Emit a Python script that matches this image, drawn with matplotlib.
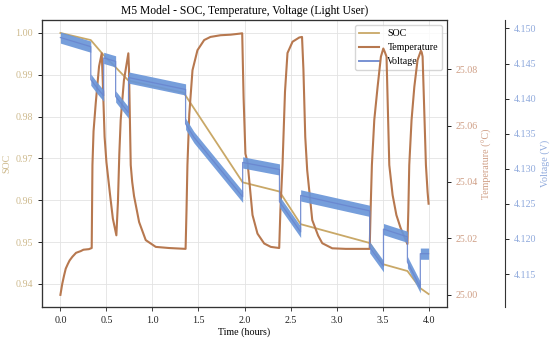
import matplotlib
matplotlib.use("Agg")
import matplotlib.pyplot as plt
from matplotlib.ticker import MultipleLocator, FormatStrFormatter
import numpy as np

plt.rcParams['font.family'] = ['Liberation Serif', 'DejaVu Serif']

# ---------------- data ----------------
soc_t = [0.0, 0.33, 0.47, 0.60, 0.74, 1.34, 1.98, 2.38, 2.61, 3.36, 3.51, 3.77, 3.91, 4.0]
soc_v = [1.0000, 0.9983, 0.9947, 0.9918, 0.9886, 0.9857, 0.9643, 0.9621, 0.9543,
         0.9498, 0.9447, 0.9431, 0.9390, 0.9376]

temp_t = [0.0, 0.02, 0.04, 0.058, 0.08, 0.10, 0.13, 0.17, 0.22, 0.25, 0.31, 0.34,
          0.348, 0.36, 0.384, 0.42, 0.449,
          0.46, 0.48, 0.50, 0.54, 0.57, 0.608,
          0.625, 0.64, 0.655, 0.69, 0.738,
          0.745, 0.755, 0.764, 0.78, 0.80, 0.83, 0.855, 0.927, 1.036, 1.18, 1.36,
          1.37, 1.38, 1.40, 1.435, 1.489, 1.562, 1.63, 1.74, 1.85, 1.957, 1.975,
          1.99, 2.01, 2.033, 2.087, 2.141, 2.214, 2.286, 2.377,
          2.39, 2.413, 2.44, 2.467, 2.522, 2.595, 2.625,
          2.64, 2.66, 2.681, 2.736, 2.80, 2.845, 2.953, 3.10, 3.36,
          3.37, 3.384, 3.41, 3.446, 3.482, 3.508,
          3.525, 3.543, 3.573, 3.609, 3.65, 3.696, 3.77,
          3.78, 3.79, 3.815, 3.845, 3.88, 3.916,
          3.925, 3.935, 3.971, 3.989, 4.0]
temp_v = [25.0000, 25.0039, 25.0069, 25.0093, 25.0109, 25.0122, 25.0135, 25.0149, 25.0155, 25.0160, 25.0162, 25.0166,
          25.0460, 25.0580, 25.0680, 25.0810, 25.0856,
          25.0760, 25.0560, 25.0470, 25.0353, 25.0270, 25.0211,
          25.0330, 25.0500, 25.0620, 25.0760, 25.0856,
          25.0800, 25.0620, 25.0460, 25.0400, 25.0350, 25.0300, 25.0258, 25.0194, 25.0170, 25.0166, 25.0163,
          25.0300, 25.0460, 25.0640, 25.0796, 25.0867, 25.0903, 25.0914, 25.0920, 25.0922, 25.0926, 25.0927,
          25.0700, 25.0500, 25.0470, 25.0283, 25.0217, 25.0182, 25.0170, 25.0166,
          25.0300, 25.0460, 25.0720, 25.0857, 25.0897, 25.0912, 25.0914,
          25.0800, 25.0560, 25.0442, 25.0265, 25.0210, 25.0183, 25.0165, 25.0163, 25.0163,
          25.0300, 25.0460, 25.0620, 25.0737, 25.0844, 25.0873,
          25.0860, 25.0844, 25.0460, 25.0354, 25.0283, 25.0237, 25.0180,
          25.0300, 25.0460, 25.0620, 25.0737, 25.0832, 25.0865,
          25.0860, 25.0844, 25.0460, 25.0365, 25.0323]

volt_t = [0.0, 0.33, 0.33, 0.40, 0.47, 0.47, 0.60, 0.60, 0.74, 0.74, 1.36, 1.36, 1.45,
          1.98, 1.98, 2.38, 2.38, 2.61, 2.61, 3.36, 3.36, 3.51, 3.51, 3.77, 3.77,
          3.91, 3.91, 4.0]
volt_v = [4.1487, 4.1474, 4.1427, 4.1415, 4.1404, 4.1458, 4.1453, 4.1403, 4.1380,
          4.1430, 4.1413, 4.1364, 4.1345, 4.1260, 4.1309, 4.1299, 4.1253, 4.1210,
          4.1262, 4.1240, 4.1188, 4.1161, 4.1214, 4.1203, 4.1167, 4.1131, 4.1179, 4.1179]

x_ticks = [0.0, 0.5, 1.0, 1.5, 2.0, 2.5, 3.0, 3.5, 4.0]

# ---------------- style ----------------
SOC_C = '#c9a867'
TEMP_C = '#b7784f'
VOLT_C = '#6a96d8'
SOC_LC = '#cdb98c'
TEMP_LC = '#cf9f86'
VOLT_LC = '#8fa9dc'
FS = 7.2

fig = plt.figure(figsize=(5.5, 3.41), dpi=100)
ax1 = fig.add_axes([42/550, 34/341, 405/550, 287/341])
ax2 = ax1.twinx()
ax3 = ax1.twinx()
ax3.spines['right'].set_position(('axes', 1.143))

ax1.grid(True, color='#e3e3e3', lw=0.6)
ax1.set_axisbelow(True)

l1, = ax1.plot(soc_t, soc_v, color=SOC_C, lw=1.3, label='SOC')
l2, = ax2.plot(temp_t, temp_v, color=TEMP_C, lw=1.5, label='Temperature')
vt = np.array(volt_t)
vv = np.array(volt_v)
ax3.fill_between(vt, vv - 0.0008, vv + 0.0008, color=VOLT_C, alpha=0.92, lw=0)
l3, = ax3.plot(vt, vv, color='#6a86cf', lw=0.9, alpha=0.9, label='Voltage')

ax1.set_xlim(-0.2, 4.2)
ax1.set_ylim(0.9345, 1.0031)
ax2.set_ylim(24.9957, 25.0974)
ax3.set_ylim(4.1103, 4.1512)

ax1.xaxis.set_major_locator(plt.FixedLocator(x_ticks))
ax1.xaxis.set_major_formatter(FormatStrFormatter('%.1f'))
ax1.yaxis.set_major_locator(MultipleLocator(0.01))
ax1.yaxis.set_major_formatter(FormatStrFormatter('%.2f'))
ax2.yaxis.set_major_locator(MultipleLocator(0.02))
ax2.yaxis.set_major_formatter(FormatStrFormatter('%.2f'))
ax3.yaxis.set_major_locator(MultipleLocator(0.005))
ax3.yaxis.set_major_formatter(FormatStrFormatter('%.3f'))

ax1.tick_params(axis='x', labelsize=FS, length=3, width=0.6, colors='#222222')
ax1.tick_params(axis='y', labelsize=FS, length=3, width=0.6, labelcolor=SOC_LC)
ax2.tick_params(axis='y', labelsize=FS, length=3, width=0.6, labelcolor=TEMP_LC)
ax3.tick_params(axis='y', labelsize=FS, length=3, width=0.6, labelcolor=VOLT_LC)

for a in (ax1, ax2, ax3):
    for s in a.spines.values():
        s.set_color('#333333')
        s.set_linewidth(0.8)

ax1.set_xlabel('Time (hours)', fontsize=FS, labelpad=2)
ax1.set_ylabel('SOC', fontsize=FS, color=SOC_LC, labelpad=3)
ax2.set_ylabel('Temperature (°C)', fontsize=FS, color=TEMP_LC, labelpad=3)
ax3.set_ylabel('Voltage (V)', fontsize=FS, color=VOLT_LC, labelpad=3)
ax1.set_title('M5 Model - SOC, Temperature, Voltage (Light User)', fontsize=8.4, pad=4)

leg = ax1.legend([l1, l2, l3], ['SOC', 'Temperature', 'Voltage'], loc='upper right',
                 fontsize=FS, framealpha=0.8, edgecolor='#cccccc', fancybox=True)
leg.get_lines()[2].set_linewidth(1.4)

fig.savefig('out.png', dpi=100)
